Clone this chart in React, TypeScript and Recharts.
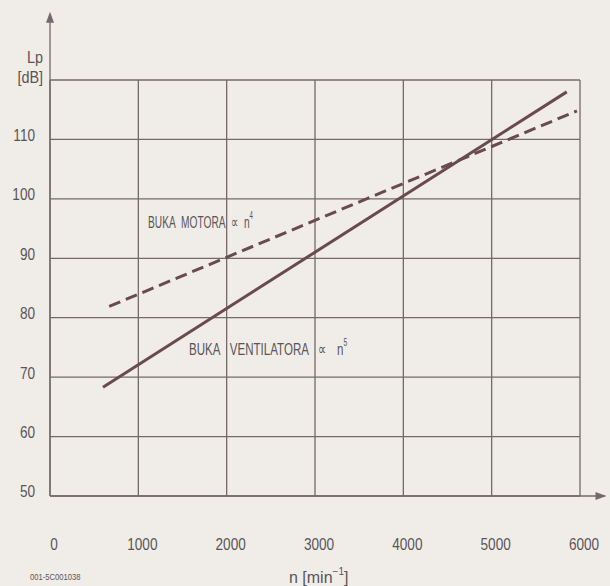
import React from 'react';
import { LineChart, Line, XAxis, YAxis, CartesianGrid, ReferenceLine, ReferenceDot } from 'recharts';

const xTicks = [0, 1000, 2000, 3000, 4000, 5000, 6000];
const yTicks = [50, 60, 70, 80, 90, 100, 110, 120];
const yTickLabels = ['50', '60', '70', '80', '90', '100', '110', ''];

const fanRpm = [600, 5850];
const fanDb = [68.3, 118.0];
const motorRpm = [670, 5965];
const motorDb = [81.9, 114.8];

const fanData = fanRpm.map((n, i) => ({ n, db: fanDb[i] }));
const motorData = motorRpm.map((n, i) => ({ n, db: motorDb[i] }));

const paper = '#f0ede8';
const gridColor = '#74686c';
const lineColor = '#694a50';
const textColor = '#5a5457';
const font = '"Liberation Sans", Arial, sans-serif';

const XTick = (props: any) => {
  const { x, y, payload } = props;
  return (
    <text transform={`translate(${x + 4},${y + 41}) scale(0.85,1)`} textAnchor="middle" dominantBaseline="central" fill={textColor} fontSize={16} fontFamily={font}>
      {String(payload.value)}
    </text>
  );
};

const YTick = (props: any) => {
  const { x, y, payload } = props;
  const idx = yTicks.indexOf(payload.value);
  return (
    <text transform={`translate(${x - 7},${y - 4}) scale(0.85,1)`} textAnchor="end" dominantBaseline="central" fill={textColor} fontSize={16} fontFamily={font}>
      {yTickLabels[idx]}
    </text>
  );
};

export default function App() {
  return (
    <div style={{ position: 'fixed', left: 0, top: 0, width: 610, height: 586, background: paper }}>
      <LineChart width={610} height={586} data={fanData} margin={{ top: 80, right: 30, bottom: 40, left: 0 }}>
        <CartesianGrid stroke={gridColor} strokeWidth={1.3} horizontalValues={yTicks} verticalValues={xTicks} />
        <XAxis dataKey="n" type="number" domain={[0, 6000]} ticks={xTicks} tick={<XTick />} tickLine={false} axisLine={false} height={50} allowDataOverflow />
        <YAxis type="number" domain={[50, 120]} ticks={yTicks} tick={<YTick />} tickLine={false} axisLine={false} width={50} allowDataOverflow />
        <ReferenceLine segment={[{ x: 0, y: 50 }, { x: 6280, y: 50 }]} stroke={gridColor} strokeWidth={1.3} ifOverflow="visible" />
        <ReferenceLine segment={[{ x: 0, y: 50 }, { x: 0, y: 131 }]} stroke={gridColor} strokeWidth={1.3} ifOverflow="visible" />
        <ReferenceDot x={6300} y={50} ifOverflow="visible" shape={(p: any) => <path d={`M${p.cx},${p.cy} l-11,-4 l0,8 z`} fill={gridColor} />} />
        <ReferenceDot x={0} y={131.5} ifOverflow="visible" shape={(p: any) => <path d={`M${p.cx},${p.cy} l-4,11 l8,0 z`} fill={gridColor} />} />
        <Line data={fanData} dataKey="db" stroke={lineColor} strokeWidth={3} dot={false} isAnimationActive={false} type="linear" />
        <Line data={motorData} dataKey="db" stroke={lineColor} strokeWidth={3} strokeDasharray="12 6" dot={false} isAnimationActive={false} type="linear" />
      </LineChart>
      <svg width={610} height={586} style={{ position: 'absolute', left: 0, top: 0, pointerEvents: 'none' }}>
        <g fontFamily={font} fill={textColor}>
          <text transform="translate(43,57) scale(0.9,1)" textAnchor="end" dominantBaseline="central" fontSize={16}>Lp</text>
          <text transform="translate(43,77) scale(0.9,1)" textAnchor="end" dominantBaseline="central" fontSize={16}>[dB]</text>
          <text transform="translate(148,222) scale(0.6,1)" dominantBaseline="central" fontSize={17} wordSpacing={5}>BUKA MOTORA ∝ n<tspan fontSize={10} dy={-7}>4</tspan></text>
          <text transform="translate(189,349) scale(0.68,1)" dominantBaseline="central" fontSize={17} wordSpacing={10}>BUKA VENTILATORA ∝ n<tspan fontSize={10} dy={-7}>5</tspan></text>
          <text x={289} y={577} dominantBaseline="central" fontSize={16}>n [min<tspan fontSize={10} dy={-6}>−1</tspan><tspan dy={6}>]</tspan></text>
          <text transform="translate(30,577) scale(0.85,1)" dominantBaseline="central" fontSize={9}>001-5C001038</text>
        </g>
      </svg>
    </div>
  );
}
